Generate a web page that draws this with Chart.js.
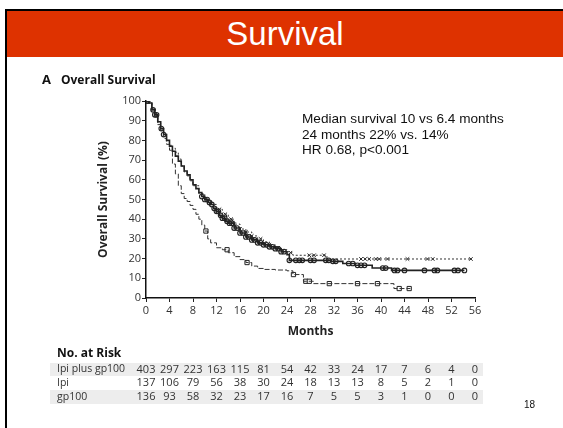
<!DOCTYPE html>
<html>
<head>
<meta charset="utf-8">
<title>Survival</title>
<script src="https://cdn.jsdelivr.net/npm/chart.js@4.4.1/dist/chart.umd.min.js"></script>
<style>
    html, body { margin: 0; padding: 0; background: #fff; }
    body { width: 563px; height: 428px; position: relative; overflow: hidden; font-family: "Open Sans", sans-serif; }
    #frame { position: absolute; left: 5px; top: 9px; width: 620px; height: 480px; border-top: 2px solid #000; border-left: 2px solid #000; }
    #banner { position: absolute; left: 7px; top: 11px; right: 0; height: 46px; background: #de3200; color: #fff;
              font-family: "Liberation Sans", Arial, sans-serif; font-size: 33px; line-height: 46px; text-align: center; }
    #chart-wrap { position: absolute; left: 0; top: 0; width: 563px; height: 428px; }
    #panel-title { position: absolute; left: 42px; top: 70px; font-size: 12px; font-weight: bold; color: #111; }
    #panel-title span { font-size: 13px; margin-right: 10px; }
    #notes { position: absolute; left: 302px; top: 111px; font-family: "Liberation Sans", Arial, sans-serif;
             font-size: 13.6px; line-height: 15.5px; color: #111; }
    #page-no { position: absolute; left: 524px; top: 399px; font-family: "Liberation Sans", Arial, sans-serif; font-size: 10px; color: #111; }
</style>
</head>
<body>
<div id="frame"></div>
<div id="chart-wrap"><canvas id="km-chart"></canvas></div>
<div id="banner">Survival</div>
<div id="panel-title"><span>A</span>Overall Survival</div>
<div id="notes">Median survival 10 vs 6.4 months<br>24 months 22% vs. 14%<br>HR 0.68, p&lt;0.001</div>
<div id="page-no">18</div>

<script>
// Kaplan-Meier steps (month, % alive after the step)
const comboMonths = [0, 0.5, 1, 1.5, 2, 2.5, 3, 3.5, 4, 4.5, 5, 5.5, 6, 6.5, 7, 7.5, 8, 8.5, 9, 9.5, 10, 10.5, 11, 11.5, 12, 12.5, 13, 13.5, 14, 15, 16, 17, 18, 19, 20, 21, 22, 23, 24, 24.4, 31.5, 33.5, 35.6, 38.5, 41.8, 54.2];
const comboSurv   = [100, 99, 95.5, 93, 89.5, 86, 83, 80, 77, 74.5, 72, 69.5, 67, 64.5, 62.5, 60, 57.5, 55.5, 53.5, 51.5, 50, 48.5, 47.5, 45.5, 44, 42, 40.5, 39, 38, 35.5, 33, 31, 29.5, 28, 27, 26, 25, 23.5, 22, 19.1, 18.6, 17.5, 16.6, 15.2, 14, 14];

const ipiMonths = [0, 0.5, 1, 1.5, 2, 2.5, 3, 3.5, 4, 4.5, 5, 5.5, 6, 6.5, 7, 7.5, 8, 9, 10, 11, 12, 13, 14, 15, 16, 17, 18, 19, 20, 21, 22, 23, 24, 24.6, 25, 30.8, 55.3];
const ipiSurv   = [100, 99, 96, 92.5, 89, 86, 83, 80, 77.5, 76, 74, 70.5, 67, 64, 62, 59.5, 57, 53, 50, 47.5, 45, 42.5, 40, 37.5, 35, 33.5, 31.5, 30, 28.5, 27, 25.5, 24.5, 23.5, 23, 21.7, 19.8, 19.8];

const gpMonths = [0, 0.5, 1, 1.5, 2, 2.5, 3, 3.5, 4, 4.5, 5, 5.5, 6, 6.5, 7, 7.5, 8, 8.5, 9, 9.5, 10, 10.5, 11, 12, 13, 14, 15, 16, 17, 18, 19, 20, 22, 24, 25, 26.8, 28.5, 42.2, 45];
const gpSurv   = [100, 99, 96, 92, 88, 85, 81, 78, 75, 68, 63, 57, 53, 50.5, 49, 47, 45, 42.5, 40, 37, 34, 30, 28, 25.5, 24.5, 23, 21, 19.5, 18, 16.2, 15, 14.5, 14.2, 13.8, 11.9, 8.5, 7.3, 4.8, 4.8];

// censoring marks (months)
const comboCensored = [0.1, 0.3, 1.2, 1.5, 1.8, 2.6, 3, 9.5, 10, 10.4, 10.8, 11.2, 11.6, 12, 12.3, 12.7, 13, 13.4, 13.8, 14.2, 14.6, 15, 15.5, 16, 16.5, 17, 17.5, 18, 18.5, 19, 19.5, 20, 20.5, 21, 21.5, 22, 22.5, 23, 23.5, 24.4, 25.5, 26.1, 26.6, 28, 28.6, 30.6, 31.1, 31.8, 32.3, 34.5, 35.2, 36, 36.6, 37.2, 40.3, 40.8, 42.3, 42.8, 44, 47.4, 49.1, 49.6, 52.5, 53.1, 54.2];
const ipiCensored = [0.2, 12.5, 13.5, 14.5, 15, 16, 17, 18, 19.5, 21, 22.5, 24.6, 27.8, 28.6, 30.3, 36.6, 37.3, 38, 39.1, 39.7, 41.1, 44.5, 47.9, 48.8, 55.3];
const gpCensored = [10.2, 13.8, 17.2, 25.1, 27.2, 27.8, 31.2, 36, 39.4, 43.1, 44.8];

// No. at risk, every 4 months
const riskMonths = [0, 4, 8, 12, 16, 20, 24, 28, 32, 36, 40, 44, 48, 52, 56];
const riskCombo = [403, 297, 223, 163, 115, 81, 54, 42, 33, 24, 17, 7, 6, 4, 0];
const riskIpi   = [137, 106, 79, 56, 38, 30, 24, 18, 13, 13, 8, 5, 2, 1, 0];
const riskGp    = [136, 93, 58, 32, 23, 17, 16, 7, 5, 5, 3, 1, 0, 0, 0];
const riskLabels = ['Ipi plus gp100', 'Ipi', 'gp100'];

const FONT = '"Open Sans", sans-serif';
const INK = '#222';

function toPoints(months, surv) {
    return months.map((m, i) => ({ x: m, y: surv[i] }));
}

// a censor mark sits on the curve at the step value in force at that time
function survAt(months, surv, t) {
    let v = surv[0];
    for (let i = 0; i < months.length; i++) {
        if (months[i] <= t) v = surv[i];
    }
    return v;
}

function censorPoints(times, months, surv) {
    return times.map(t => ({ x: t, y: survAt(months, surv, t) }));
}

const riskTablePlugin = {
    id: 'riskTable',
    afterDraw(chart) {
        const ctx = chart.ctx;
        const xScale = chart.scales.x;
        const rows = [riskCombo, riskIpi, riskGp];
        const rowY = [369.5, 383, 397];

        ctx.save();
        ctx.fillStyle = '#ededed';
        ctx.fillRect(50, 363, 433, 13);
        ctx.fillRect(50, 390, 433, 14);

        ctx.fillStyle = '#111';
        ctx.font = `bold 12px ${FONT}`;
        ctx.textBaseline = 'middle';
        ctx.textAlign = 'left';
        ctx.fillText('No. at Risk', 57, 354);

        ctx.fillStyle = '#333';
        rows.forEach((values, r) => {
            ctx.font = `10.5px ${FONT}`;
            ctx.textAlign = 'left';
            ctx.fillText(riskLabels[r], 57, rowY[r]);
            ctx.font = `11px ${FONT}`;
            ctx.textAlign = 'center';
            values.forEach((n, i) => {
                ctx.fillText(String(n), xScale.getPixelForValue(riskMonths[i]), rowY[r]);
            });
        });
        ctx.restore();
    }
};

const ctx = document.getElementById('km-chart').getContext('2d');
new Chart(ctx, {
    type: 'line',
    data: {
        datasets: [
            {
                label: 'Ipi plus gp100',
                data: toPoints(comboMonths, comboSurv),
                stepped: true,
                borderColor: INK,
                borderWidth: 1.6,
                pointRadius: 0,
                fill: false
            },
            {
                label: 'Ipi',
                data: toPoints(ipiMonths, ipiSurv),
                stepped: true,
                borderColor: '#333',
                borderWidth: 1,
                borderDash: [2, 2],
                pointRadius: 0,
                fill: false
            },
            {
                label: 'gp100',
                data: toPoints(gpMonths, gpSurv),
                stepped: true,
                borderColor: '#333',
                borderWidth: 1,
                borderDash: [5, 2],
                pointRadius: 0,
                fill: false
            },
            {
                type: 'scatter',
                label: 'Ipi plus gp100 censored',
                data: censorPoints(comboCensored, comboMonths, comboSurv),
                pointStyle: 'circle',
                pointRadius: 2.3,
                borderColor: INK,
                borderWidth: 1.1,
                backgroundColor: 'rgba(0,0,0,0)'
            },
            {
                type: 'scatter',
                label: 'Ipi censored',
                data: censorPoints(ipiCensored, ipiMonths, ipiSurv),
                pointStyle: 'crossRot',
                pointRadius: 2.5,
                borderColor: INK,
                borderWidth: 1
            },
            {
                type: 'scatter',
                label: 'gp100 censored',
                data: censorPoints(gpCensored, gpMonths, gpSurv),
                pointStyle: 'rect',
                pointRadius: 3,
                borderColor: INK,
                borderWidth: 1,
                backgroundColor: '#fff'
            }
        ]
    },
    options: {
        responsive: true,
        maintainAspectRatio: false,
        animation: false,
        layout: { padding: { left: 96, right: 88, top: 101, bottom: 86 } },
        scales: {
            x: {
                type: 'linear',
                min: 0,
                max: 56,
                ticks: { stepSize: 4, font: { family: FONT, size: 11 }, color: '#333', padding: 2, maxRotation: 0 },
                grid: { drawOnChartArea: false, tickLength: 4, color: INK },
                border: { color: '#111', width: 1.5 },
                title: { display: true, text: 'Months', font: { family: FONT, size: 12, weight: 'bold' }, color: INK, padding: { top: 0, bottom: 3 } },
                afterFit: scale => { scale.height = 44; }
            },
            y: {
                min: 0,
                max: 100,
                ticks: { stepSize: 10, font: { family: FONT, size: 11 }, color: '#333', padding: 1 },
                grid: { drawOnChartArea: false, tickLength: 4, color: INK },
                border: { color: '#111', width: 1.5 },
                title: { display: true, text: 'Overall Survival (%)', font: { family: FONT, size: 12, weight: 'bold' }, color: INK, padding: { top: 0, bottom: 0 } },
                afterFit: scale => { scale.width = 50; }
            }
        },
        plugins: {
            legend: { display: false },
            tooltip: { enabled: false }
        }
    },
    plugins: [riskTablePlugin]
});
</script>
</body>
</html>
